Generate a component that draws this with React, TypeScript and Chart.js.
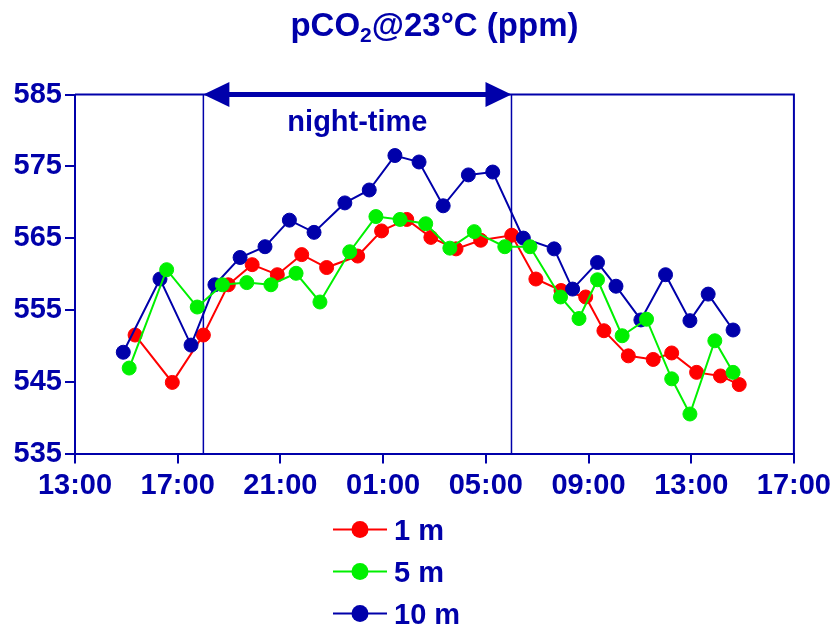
import React, { useEffect, useRef } from "react";
import { Chart, registerables } from "chart.js";

Chart.register(...registerables);

// ---- data (hours after 13:00 on day 1) ----
const seriesNames = ["1 m", "5 m", "10 m"];
const seriesColors = ["#FF0000", "#00F000", "#0000AA"];

const hours1m = [2.34, 3.79, 5.0, 5.97, 6.9, 7.88, 8.83, 9.8, 11.01, 11.94, 12.92, 13.86, 14.84, 15.8, 17.01, 17.95, 18.93, 19.89, 20.6, 21.55, 22.52, 23.24, 24.21, 25.14, 25.87];
const pco2_1m = [551.5, 544.9, 551.5, 558.5, 561.3, 559.9, 562.7, 560.9, 562.5, 566.0, 567.6, 565.1, 563.5, 564.7, 565.4, 559.3, 557.7, 556.8, 552.1, 548.6, 548.1, 549.0, 546.3, 545.8, 544.6];

const hours5m = [2.11, 3.57, 4.76, 5.74, 6.69, 7.63, 8.61, 9.54, 10.7, 11.72, 12.66, 13.66, 14.6, 15.55, 16.74, 17.72, 18.91, 19.63, 20.35, 21.31, 22.26, 23.24, 23.95, 24.92, 25.63];
const pco2_5m = [546.9, 560.6, 555.4, 558.5, 558.8, 558.5, 560.1, 556.1, 563.1, 568.0, 567.6, 567.0, 563.6, 565.9, 563.8, 563.8, 556.8, 553.8, 559.2, 551.4, 553.7, 545.4, 540.5, 550.7, 546.3];

const hours10m = [1.88, 3.31, 4.52, 5.45, 6.43, 7.4, 8.35, 9.31, 10.51, 11.46, 12.46, 13.4, 14.34, 15.32, 16.27, 17.46, 18.66, 19.38, 20.35, 21.07, 22.04, 23.0, 23.95, 24.66, 25.63];
const pco2_10m = [549.1, 559.3, 550.1, 558.5, 562.3, 563.8, 567.5, 565.8, 569.9, 571.7, 576.5, 575.6, 569.5, 573.8, 574.2, 565.0, 563.5, 557.9, 561.6, 558.3, 553.6, 559.9, 553.5, 557.2, 552.2];

const startClockHour = 13;
const xMin = 0;
const xMax = 28;
const xStep = 4;
const yMin = 535;
const yMax = 585;
const yStep = 10;
const nightStart = 5; // 18:00
const nightEnd = 17; // 06:00
const nightLabel = "night-time";
const titleMain = "pCO";
const titleSub = "2";
const titleRest = "@23°C (ppm)";

const BLUE = "#0000AA";
const FONT_FAMILY = "'Liberation Sans', Arial, Helvetica, sans-serif";

function fmtHour(v: number): string {
  const h = (((startClockHour + v) % 24) + 24) % 24;
  return (h < 10 ? "0" : "") + h + ":00";
}

const decorPlugin = {
  id: "decor",
  beforeDatasetsDraw(chart: any) {
    const { ctx, chartArea: a, scales } = chart;
    const x = scales.x;
    ctx.save();
    ctx.strokeStyle = BLUE;
    ctx.lineWidth = 2;
    ctx.beginPath();
    ctx.moveTo(a.left, a.top);
    ctx.lineTo(a.right, a.top);
    ctx.lineTo(a.right, a.bottom);
    ctx.stroke();

    ctx.lineWidth = 1.5;
    const x1 = x.getPixelForValue(nightStart);
    const x2 = x.getPixelForValue(nightEnd);
    ctx.beginPath();
    ctx.moveTo(x1, a.top);
    ctx.lineTo(x1, a.bottom);
    ctx.moveTo(x2, a.top);
    ctx.lineTo(x2, a.bottom);
    ctx.stroke();

    // arrow
    const y = a.top;
    ctx.lineWidth = 5;
    ctx.beginPath();
    ctx.moveTo(x1 + 20, y);
    ctx.lineTo(x2 - 20, y);
    ctx.stroke();
    ctx.fillStyle = BLUE;
    ctx.beginPath();
    ctx.moveTo(x1, y);
    ctx.lineTo(x1 + 26, y - 12.5);
    ctx.lineTo(x1 + 26, y + 12.5);
    ctx.closePath();
    ctx.fill();
    ctx.beginPath();
    ctx.moveTo(x2, y);
    ctx.lineTo(x2 - 26, y - 12.5);
    ctx.lineTo(x2 - 26, y + 12.5);
    ctx.closePath();
    ctx.fill();

    ctx.font = `bold 29px ${FONT_FAMILY}`;
    ctx.textAlign = "center";
    ctx.textBaseline = "alphabetic";
    ctx.fillText(nightLabel, (x1 + x2) / 2, y + 36);
    ctx.restore();
  },
  afterDraw(chart: any) {
    const { ctx, chartArea: a } = chart;
    ctx.save();
    ctx.fillStyle = BLUE;
    ctx.textBaseline = "alphabetic";
    ctx.textAlign = "left";
    // title
    const bigFont = `bold 33px ${FONT_FAMILY}`;
    const subFont = `bold 21px ${FONT_FAMILY}`;
    ctx.font = bigFont;
    const w1 = ctx.measureText(titleMain).width;
    const w3 = ctx.measureText(titleRest).width;
    ctx.font = subFont;
    const w2 = ctx.measureText(titleSub).width;
    const total = w1 + w2 + w3;
    let tx = (a.left + a.right) / 2 - total / 2;
    const ty = 36;
    ctx.font = bigFont;
    ctx.fillText(titleMain, tx, ty);
    tx += w1;
    ctx.font = subFont;
    ctx.fillText(titleSub, tx, ty + 6);
    tx += w2;
    ctx.font = bigFont;
    ctx.fillText(titleRest, tx, ty);

    // legend
    const ds = chart.data.datasets;
    for (let i = 0; i < ds.length; i++) {
      const my = 529.5 + 42 * i;
      ctx.strokeStyle = ds[i].borderColor;
      ctx.fillStyle = ds[i].borderColor;
      ctx.lineWidth = 2;
      ctx.beginPath();
      ctx.moveTo(333, my);
      ctx.lineTo(387, my);
      ctx.stroke();
      ctx.beginPath();
      ctx.arc(360, my, 8.5, 0, Math.PI * 2);
      ctx.fill();
      ctx.fillStyle = BLUE;
      ctx.font = `bold 29px ${FONT_FAMILY}`;
      ctx.fillText(ds[i].label, 394, my + 10.5);
    }
    ctx.restore();
  },
};

export default function App() {
  const canvasRef = useRef<HTMLCanvasElement | null>(null);

  useEffect(() => {
    document.body.style.margin = "0";
    const canvas = canvasRef.current;
    if (!canvas) return;
    const allHours = [hours1m, hours5m, hours10m];
    const allVals = [pco2_1m, pco2_5m, pco2_10m];
    const orders = [2, 0, 1];
    const datasets = seriesNames.map((name, i) => ({
      label: name,
      data: allHours[i].map((h, j) => ({ x: h, y: allVals[i][j] })),
      borderColor: seriesColors[i],
      backgroundColor: seriesColors[i],
      pointBackgroundColor: seriesColors[i],
      pointBorderColor: seriesColors[i],
      pointRadius: 7,
      pointBorderWidth: 1,
      borderWidth: 2,
      tension: 0,
      order: orders[i],
    }));
    const tickFont = { family: FONT_FAMILY, size: 29, weight: "bold" as const };
    const chart = new Chart(canvas, {
      type: "line",
      data: { datasets },
      options: {
        animation: false,
        responsive: false,
        devicePixelRatio: 1,
        layout: { padding: { top: 94.5, right: 42, left: 0, bottom: 0 } },
        plugins: { legend: { display: false }, title: { display: false }, tooltip: { enabled: false } },
        scales: {
          x: {
            type: "linear",
            min: xMin,
            max: xMax,
            afterFit: (s: any) => {
              s.height = 172.5;
            },
            ticks: {
              stepSize: xStep,
              autoSkip: false,
              maxRotation: 0,
              color: BLUE,
              font: tickFont,
              padding: 5,
              callback: (v: any) => fmtHour(Number(v)),
            },
            grid: { drawOnChartArea: false, drawTicks: true, tickLength: 10, color: BLUE, lineWidth: 2 },
            border: { color: BLUE, width: 2 },
          },
          y: {
            min: yMin,
            max: yMax,
            afterFit: (s: any) => {
              s.width = 75;
            },
            ticks: { stepSize: yStep, color: BLUE, font: tickFont, padding: 3 },
            grid: { drawOnChartArea: false, drawTicks: true, tickLength: 10, color: BLUE, lineWidth: 2 },
            border: { color: BLUE, width: 2 },
          },
        },
      },
      plugins: [decorPlugin],
    });
    return () => chart.destroy();
  }, []);

  return (
    <div style={{ width: 836, height: 626, background: "#fff" }}>
      <canvas ref={canvasRef} width={836} height={626} />
    </div>
  );
}
